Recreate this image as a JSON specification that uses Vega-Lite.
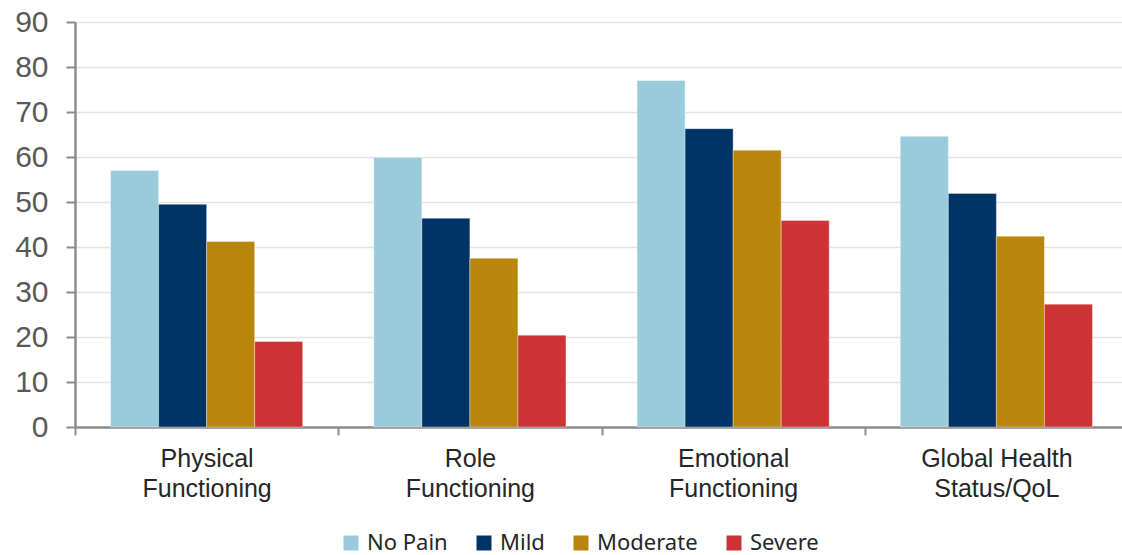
{
  "$schema": "https://vega.github.io/schema/vega-lite/v6.json",
  "width": 1053,
  "height": 405,
  "autosize": "none",
  "padding": {"left": 75, "top": 22, "right": 0, "bottom": 128},
  "background": "white",
  "data": {
    "values": [
      {"domain": "Physical Functioning", "pain": "No Pain", "score": 57.0},
      {"domain": "Physical Functioning", "pain": "Mild", "score": 49.5},
      {"domain": "Physical Functioning", "pain": "Moderate", "score": 41.2},
      {"domain": "Physical Functioning", "pain": "Severe", "score": 19.0},
      {"domain": "Role Functioning", "pain": "No Pain", "score": 59.9},
      {"domain": "Role Functioning", "pain": "Mild", "score": 46.4},
      {"domain": "Role Functioning", "pain": "Moderate", "score": 37.5},
      {"domain": "Role Functioning", "pain": "Severe", "score": 20.4},
      {"domain": "Emotional Functioning", "pain": "No Pain", "score": 77.0},
      {"domain": "Emotional Functioning", "pain": "Mild", "score": 66.3},
      {"domain": "Emotional Functioning", "pain": "Moderate", "score": 61.5},
      {"domain": "Emotional Functioning", "pain": "Severe", "score": 45.9},
      {"domain": "Global Health Status/QoL", "pain": "No Pain", "score": 64.6},
      {"domain": "Global Health Status/QoL", "pain": "Mild", "score": 51.9},
      {"domain": "Global Health Status/QoL", "pain": "Moderate", "score": 42.4},
      {"domain": "Global Health Status/QoL", "pain": "Severe", "score": 27.3}
    ]
  },
  "mark": {"type": "bar", "stroke": "#ffffff", "strokeWidth": 0.6, "strokeOpacity": 0.6},
  "encoding": {
    "x": {
      "field": "domain",
      "type": "nominal",
      "sort": ["Physical Functioning", "Role Functioning", "Emotional Functioning", "Global Health Status/QoL"],
      "scale": {"paddingInner": 0, "paddingOuter": 0},
      "axis": {
        "title": null,
        "labelAngle": 0,
        "labelExpr": "datum.label == 'Global Health Status/QoL' ? ['Global Health', 'Status/QoL'] : split(datum.label, ' ')",
        "labelFont": "Liberation Sans",
        "labelFontSize": 25,
        "labelLineHeight": 30,
        "labelColor": "#262626",
        "labelPadding": 11,
        "tickBand": "extent",
        "tickSize": 8,
        "tickWidth": 2,
        "tickColor": "#8c8c8c",
        "domainColor": "#8c8c8c",
        "domainWidth": 2.5,
        "grid": false
      }
    },
    "xOffset": {
      "field": "pain",
      "type": "nominal",
      "sort": ["No Pain", "Mild", "Moderate", "Severe"],
      "scale": {"paddingInner": 0, "paddingOuter": 0.74}
    },
    "y": {
      "field": "score",
      "type": "quantitative",
      "scale": {"domain": [0, 90], "nice": false},
      "axis": {
        "title": null,
        "values": [0, 10, 20, 30, 40, 50, 60, 70, 80, 90],
        "labelFont": "Liberation Sans",
        "labelFontSize": 30,
        "labelColor": "#595959",
        "labelPadding": 18,
        "tickSize": 9,
        "tickWidth": 2,
        "tickColor": "#8c8c8c",
        "domainColor": "#8c8c8c",
        "domainWidth": 2.5,
        "gridColor": "#e4e4e4",
        "gridWidth": 1.5
      }
    },
    "color": {
      "field": "pain",
      "type": "nominal",
      "sort": ["No Pain", "Mild", "Moderate", "Severe"],
      "scale": {
        "domain": ["No Pain", "Mild", "Moderate", "Severe"],
        "range": ["#9acbdc", "#003466", "#b8860b", "#cd3335"]
      },
      "legend": {
        "title": null,
        "orient": "none",
        "legendX": 265,
        "legendY": 510,
        "direction": "horizontal",
        "padding": 0,
        "symbolType": "square",
        "symbolSize": 225,
        "symbolStrokeWidth": 0,
        "labelFont": "Noto Sans",
        "labelFontSize": 22,
        "labelColor": "#262626",
        "labelOffset": 5,
        "columnPadding": 25
      }
    }
  },
  "config": {"view": {"stroke": null}}
}
